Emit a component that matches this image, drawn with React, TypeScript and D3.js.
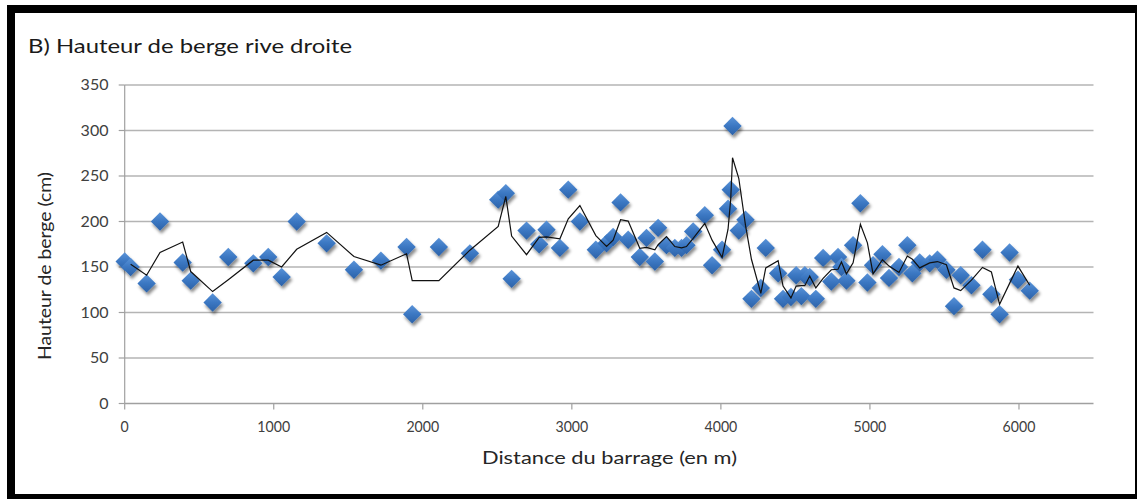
import React from "react";
import * as d3 from "d3";

const distances = [
  0, 40, 147, 237, 389, 443, 590, 695, 863, 963, 1053, 1154, 1355, 1538, 1719, 1891, 1929, 2108,
  2316, 2506, 2557, 2596, 2696, 2781, 2830, 2920, 2976, 3054, 3161, 3233, 3277, 3327, 3378, 3456,
  3501, 3557, 3579, 3635, 3691, 3736, 3769, 3814, 3892, 3941, 4008, 4048, 4066, 4078, 4120, 4165,
  4205, 4268, 4301, 4384, 4417, 4470, 4505, 4540, 4563, 4596, 4637, 4686, 4741, 4786, 4809, 4842,
  4887, 4936, 4983, 5021, 5084, 5128, 5195, 5251, 5285, 5334, 5401, 5453, 5513, 5564, 5609, 5681,
  5755, 5815, 5870, 5937, 5993, 6072,
];
const heights = [
  156, 150, 132, 200, 155, 135, 111, 161, 154, 161, 139, 200, 176, 147, 157, 172, 98, 172,
  165, 224, 231, 137, 190, 175, 191, 171, 235, 200, 169, 176, 183, 221, 180, 161,
  182, 156, 193, 174, 171, 171, 174, 189, 207, 152, 169, 214, 235, 305, 190, 202,
  115, 127, 171, 143, 115, 117, 141, 118, 141, 139, 115, 160, 134, 161, 150, 135,
  174, 220, 133, 152, 164, 138, 150, 174, 143, 155, 154, 158, 147, 107, 141, 130,
  169, 120, 98, 166, 136, 124,
];
const xTicks = [0, 1000, 2000, 3000, 4000, 5000, 6000];
const yTicks = [0, 50, 100, 150, 200, 250, 300, 350];
const title = "B) Hauteur de berge rive droite";
const xTitle = "Distance du barrage (en m)";
const yTitle = "Hauteur de berge (cm)";

export default function App() {
  const W = 1138, H = 499;
  const x = d3.scaleLinear().domain([0, 6500]).range([124.7, 1093.5]);
  const y = d3.scaleLinear().domain([0, 350]).range([403.5, 85]);
  const pts = distances.map((d, i) => ({ d, v: heights[i] }));
  const ma = pts.slice(1).map((p, i) => ({ d: p.d, v: (p.v + pts[i].v) / 2 }));
  const line = d3.line<{ d: number; v: number }>().x((p) => x(p.d)).y((p) => y(p.v));
  const diamond = (cx: number, cy: number, r: number) =>
    `M${cx},${cy - r}L${cx + r},${cy}L${cx},${cy + r}L${cx - r},${cy}Z`;
  const font = "Lato, 'Open Sans', sans-serif";
  const tickColor = "#404040";

  return (
    <svg width={W} height={H} style={{ position: "absolute", left: 0, top: 0 }} fontFamily={font}>
      <defs>
        <linearGradient id="dg" x1="0" y1="0" x2="0" y2="1">
          <stop offset="0" stopColor="#5a93d8" />
          <stop offset="0.5" stopColor="#3b77c2" />
          <stop offset="1" stopColor="#2c62a8" />
        </linearGradient>
        <filter id="sh" x="-50%" y="-50%" width="200%" height="200%">
          <feDropShadow dx="1.5" dy="3" stdDeviation="1.8" floodColor="#000" floodOpacity="0.45" />
        </filter>
      </defs>
      <rect x={0} y={0} width={W} height={H} fill="#fff" />
      {/* frame */}
      <rect x={7} y={5} width={1130} height={494} fill="#000" />
      <rect x={15} y={13} width={1120} height={481} fill="#fff" />

      <text x={28} y={53} fontSize={20} fill="#1a1a1a" textLength={324} lengthAdjust="spacingAndGlyphs">
        {title}
      </text>

      {/* grid */}
      {yTicks.filter((t) => t > 0).map((t) => (
        <line key={t} x1={x(0)} x2={x(6500)} y1={y(t)} y2={y(t)} stroke="#b4b4b4" strokeWidth={1.3} />
      ))}
      {/* axes */}
      <line x1={x(0)} x2={x(0)} y1={y(350)} y2={y(0)} stroke="#a0a0a0" strokeWidth={1.2} />
      <line x1={x(0)} x2={x(6500)} y1={y(0)} y2={y(0)} stroke="#a0a0a0" strokeWidth={1.3} />
      {yTicks.map((t) => (
        <g key={t}>
          <line x1={x(0) - 6} x2={x(0)} y1={y(t)} y2={y(t)} stroke="#a0a0a0" strokeWidth={1.2} />
          <text
            x={108.5}
            y={y(t) + 5}
            textAnchor="end"
            fontSize={14.5}
            fill={tickColor}
            textLength={String(t).length * 9.3}
            lengthAdjust="spacingAndGlyphs"
          >
            {t}
          </text>
        </g>
      ))}
      {xTicks.map((t) => (
        <g key={t}>
          <line x1={x(t)} x2={x(t)} y1={y(0)} y2={y(0) + 6} stroke="#a0a0a0" strokeWidth={1.2} />
          <text
            x={x(t)}
            y={431.5}
            textAnchor="middle"
            fontSize={14.5}
            fill={tickColor}
            textLength={String(t).length * 8.2}
            lengthAdjust="spacingAndGlyphs"
          >
            {t}
          </text>
        </g>
      ))}

      <text x={609.5} y={464} textAnchor="middle" fontSize={17} fill="#262626" textLength={255} lengthAdjust="spacingAndGlyphs">
        {xTitle}
      </text>
      <text
        transform={`translate(51,266) rotate(-90)`}
        textAnchor="middle"
        fontSize={18}
        fill="#262626"
        textLength={188}
        lengthAdjust="spacingAndGlyphs"
      >
        {yTitle}
      </text>

      {/* markers */}
      <g filter="url(#sh)">
        {pts.map((p, i) => (
          <path key={i} d={diamond(x(p.d), y(p.v), 9.2)} fill="url(#dg)" />
        ))}
      </g>
      {/* moving average */}
      <path d={line(ma) || ""} fill="none" stroke="#111" strokeWidth={1.2} />
    </svg>
  );
}
